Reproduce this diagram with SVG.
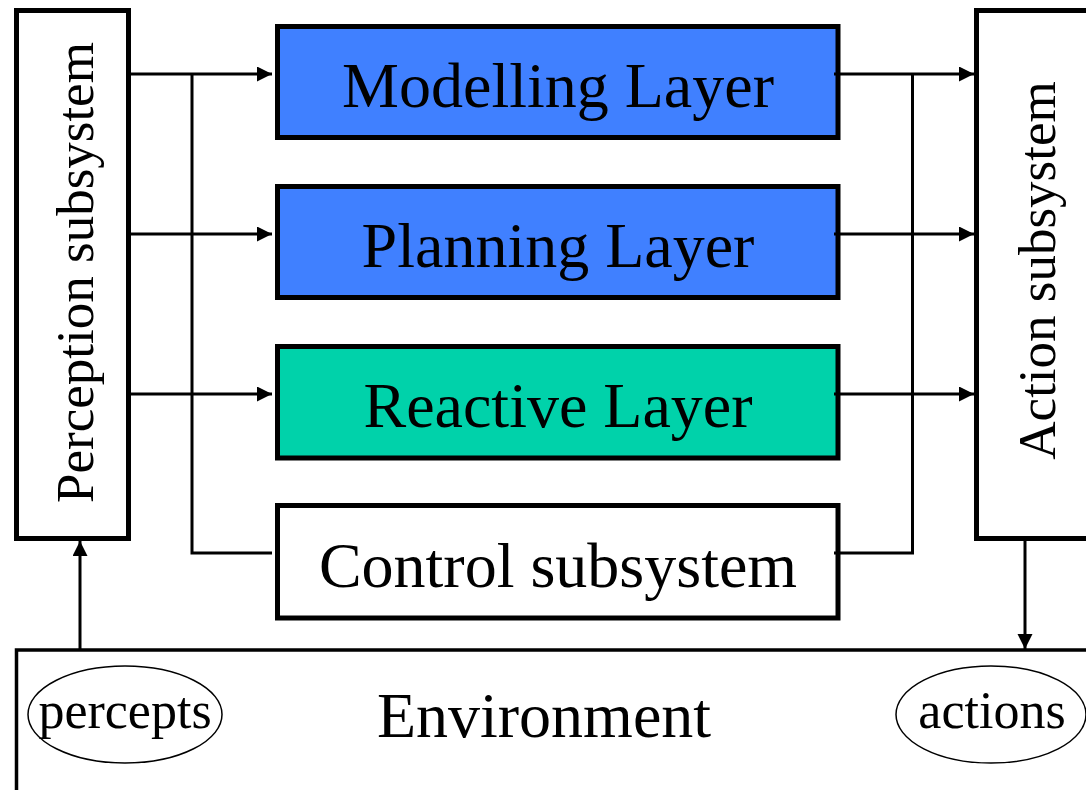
<svg xmlns="http://www.w3.org/2000/svg" width="1086" height="790" viewBox="0 0 1086 790">
  <defs>
    <marker id="arrow" markerUnits="userSpaceOnUse" markerWidth="16" markerHeight="16" refX="15" refY="7.5" orient="auto">
      <path d="M0,0 L15,7.5 L0,15 Z" fill="#000"/>
    </marker>
  </defs>
  <style>
    .box { stroke: #000; stroke-width: 5; }
    .lbl { font-family: "Liberation Serif", "Times New Roman", serif; fill: #000; }
    .big { font-size: 64px; text-anchor: middle; }
    .side { font-size: 53px; text-anchor: middle; }
    .small { font-size: 52px; text-anchor: middle; }
    .wire { fill: none; stroke: #000; stroke-width: 3; }
  </style>
  <rect width="1086" height="790" fill="#fff"/>

  <!-- environment -->
  <g id="environment">
    <rect x="16.5" y="650" width="1100" height="200" fill="#fff" stroke="#000" stroke-width="3.5"/>
    <text class="lbl big" x="544" y="737">Environment</text>
    <ellipse cx="125" cy="714.5" rx="97" ry="48.5" fill="none" stroke="#000" stroke-width="1.5"/>
    <text class="lbl small" x="125" y="728">percepts</text>
    <ellipse cx="991" cy="714.5" rx="95" ry="48.5" fill="none" stroke="#000" stroke-width="1.5"/>
    <text class="lbl small" x="992" y="728">actions</text>
  </g>

  <g id="perception">
    <rect class="box" x="16.5" y="10.5" width="112" height="528" fill="#fff"/>
    <text class="lbl side" transform="translate(93,272.5) rotate(-90)">Perception subsystem</text>
  </g>

  <g id="action">
    <rect class="box" x="976.5" y="10.5" width="130" height="528" fill="#fff"/>
    <text class="lbl side" transform="translate(1055,270.5) rotate(-90)">Action subsystem</text>
  </g>

  <g id="modelling">
    <rect class="box" x="277.5" y="26.5" width="560.5" height="111" fill="#4080FF"/>
    <text class="lbl big" x="558" y="107">Modelling Layer</text>
  </g>

  <g id="planning">
    <rect class="box" x="277.5" y="186.5" width="560.5" height="111" fill="#4080FF"/>
    <text class="lbl big" x="558" y="267">Planning Layer</text>
  </g>

  <g id="reactive">
    <rect class="box" x="277.5" y="346.5" width="560.5" height="111.5" fill="#00D2AA"/>
    <text class="lbl big" x="558" y="427">Reactive Layer</text>
  </g>

  <g id="control">
    <rect class="box" x="277.5" y="505.5" width="560.5" height="112.5" fill="#fff"/>
    <text class="lbl big" x="558" y="587">Control subsystem</text>
  </g>

  <!-- connectors -->
  <g id="connectors">
    <line class="wire" x1="128.5" y1="74" x2="272" y2="74" marker-end="url(#arrow)"/>
    <line class="wire" x1="128.5" y1="234" x2="272" y2="234" marker-end="url(#arrow)"/>
    <line class="wire" x1="128.5" y1="394" x2="272" y2="394" marker-end="url(#arrow)"/>
    <polyline class="wire" points="192,74 192,553 272,553"/>

    <line class="wire" x1="834" y1="74" x2="974" y2="74" marker-end="url(#arrow)"/>
    <line class="wire" x1="834" y1="234" x2="974" y2="234" marker-end="url(#arrow)"/>
    <line class="wire" x1="834" y1="394" x2="974" y2="394" marker-end="url(#arrow)"/>
    <polyline class="wire" points="912.5,74 912.5,553 834,553"/>

    <line class="wire" x1="80" y1="650" x2="80" y2="541" marker-end="url(#arrow)"/>
    <line class="wire" x1="1025" y1="541" x2="1025" y2="649" marker-end="url(#arrow)"/>
  </g>
</svg>
